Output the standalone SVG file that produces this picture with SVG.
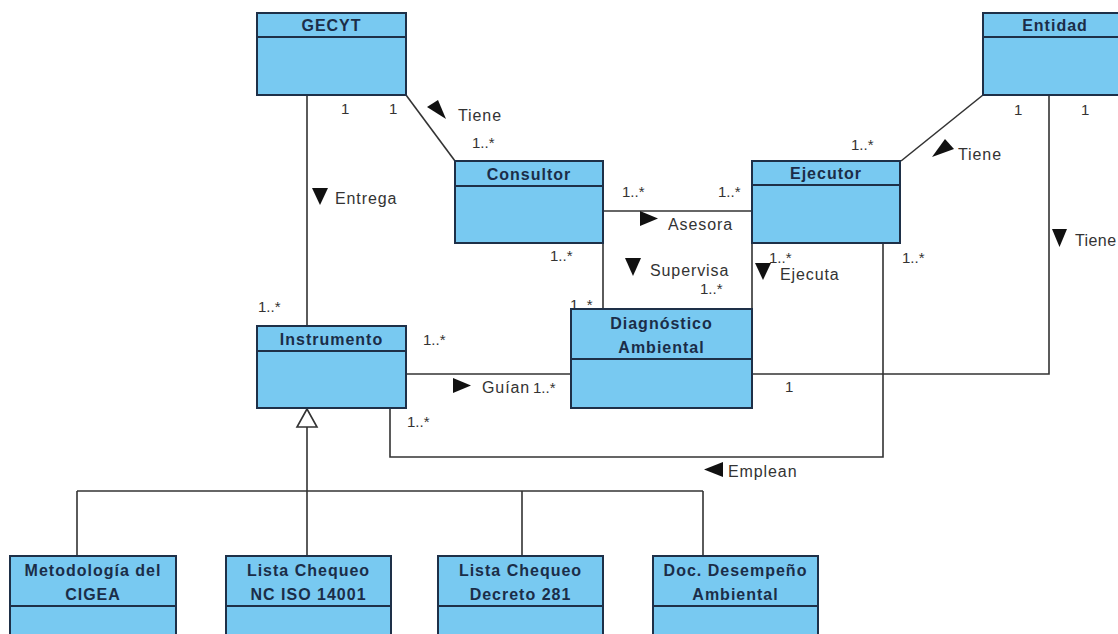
<svg xmlns="http://www.w3.org/2000/svg" width="1118" height="634" viewBox="0 0 1118 634">
  <style>
    .box { fill: #78c9f1; stroke: #1e3048; stroke-width: 2; }
    .sep { stroke: #1e3048; stroke-width: 2; fill: none; }
    .title { font-family: "Liberation Sans", Arial, sans-serif; font-size: 16px; font-weight: bold; fill: #1b2d48; text-anchor: middle; letter-spacing: 1px; }
    .lbl { font-family: "Liberation Sans", Arial, sans-serif; font-size: 16px; fill: #333333; letter-spacing: 0.9px; }
    .mul { font-family: "Liberation Sans", Arial, sans-serif; font-size: 15px; fill: #333333; }
    .ln { stroke: #333333; stroke-width: 1.6; fill: none; }
    .dir { fill: #111111; stroke: none; }
    .gen { fill: #ffffff; stroke: #333333; stroke-width: 1.6; }
  </style>
  <rect x="0" y="0" width="1118" height="634" fill="#ffffff"/>

  <!-- connectors -->
  <g id="connectors">
    <!-- GECYT - Consultor : Tiene -->
    <line class="ln" x1="406" y1="95" x2="455" y2="161"/>
    <!-- GECYT - Instrumento : Entrega -->
    <line class="ln" x1="307" y1="95" x2="307" y2="326"/>
    <!-- Entidad - Ejecutor : Tiene -->
    <line class="ln" x1="983" y1="95" x2="901" y2="161"/>
    <!-- Consultor - Ejecutor : Asesora -->
    <line class="ln" x1="603" y1="211" x2="752" y2="211"/>
    <!-- Consultor - Diagnostico : Supervisa -->
    <line class="ln" x1="603" y1="243" x2="603" y2="309"/>
    <!-- Ejecutor - Diagnostico : Ejecuta -->
    <line class="ln" x1="752" y1="243" x2="752" y2="309"/>
    <!-- Instrumento - Diagnostico : Guian -->
    <line class="ln" x1="406" y1="374" x2="571" y2="374"/>
    <!-- Entidad - Diagnostico : Tiene -->
    <polyline class="ln" points="1049,95 1049,374 752,374"/>
    <!-- Ejecutor - Instrumento : Emplean -->
    <polyline class="ln" points="883,243 883,457 390,457 390,408"/>
    <!-- generalization tree -->
    <line class="ln" x1="307" y1="427" x2="307" y2="491"/>
    <line class="ln" x1="77" y1="491" x2="703" y2="491"/>
    <line class="ln" x1="77" y1="491" x2="77" y2="556"/>
    <line class="ln" x1="307" y1="491" x2="307" y2="556"/>
    <line class="ln" x1="522" y1="491" x2="522" y2="556"/>
    <line class="ln" x1="703" y1="491" x2="703" y2="556"/>
    <polygon class="gen" points="307,409 297,427 317,427"/>

    <!-- direction markers -->
    <polygon class="dir" points="427,107 438,100 446,119"/>
    <polygon class="dir" points="945,139 954,149 932,157"/>
    <polygon class="dir" points="312,188 328,188 320,205"/>
    <polygon class="dir" points="640,211 640,226 658,218.5"/>
    <polygon class="dir" points="625,258 641,258 633,276"/>
    <polygon class="dir" points="755,263 771,263 763,280"/>
    <polygon class="dir" points="1052,229 1067,229 1059.5,247"/>
    <polygon class="dir" points="453,378 453,393 471,385.5"/>
    <polygon class="dir" points="723,462 723,477 704,469.5"/>

    <!-- association names -->
    <text class="lbl" x="458" y="121">Tiene</text>
    <text class="lbl" x="335" y="204">Entrega</text>
    <text class="lbl" x="958" y="160">Tiene</text>
    <text class="lbl" x="668" y="230">Asesora</text>
    <text class="lbl" x="650" y="276">Supervisa</text>
    <text class="lbl" x="780" y="280">Ejecuta</text>
    <text class="lbl" x="1075" y="246" style="letter-spacing:0.4px">Tiene</text>
    <text class="lbl" x="482" y="393">Guían</text>
    <text class="lbl" x="728" y="477">Emplean</text>

    <!-- multiplicities -->
    <text class="mul" x="341" y="114">1</text>
    <text class="mul" x="389" y="114">1</text>
    <text class="mul" x="472" y="148">1..*</text>
    <text class="mul" x="258" y="312">1..*</text>
    <text class="mul" x="1014" y="115">1</text>
    <text class="mul" x="1081" y="115">1</text>
    <text class="mul" x="851" y="150">1..*</text>
    <text class="mul" x="622" y="197">1..*</text>
    <text class="mul" x="718" y="197">1..*</text>
    <text class="mul" x="550" y="261">1..*</text>
    <text class="mul" x="700" y="294">1..*</text>
    <text class="mul" x="570" y="310">1..*</text>
    <text class="mul" x="769" y="263">1..*</text>
    <text class="mul" x="902" y="263">1..*</text>
    <text class="mul" x="423" y="345">1..*</text>
    <text class="mul" x="533" y="393">1..*</text>
    <text class="mul" x="407" y="427">1..*</text>
    <text class="mul" x="785" y="392">1</text>
  </g>

  <!-- classes -->
  <g id="gecyt">
    <rect class="box" x="257" y="13" width="149" height="82"/>
    <line class="sep" x1="257" y1="37" x2="406" y2="37"/>
    <text class="title" x="331.5" y="31">GECYT</text>
  </g>
  <g id="entidad">
    <rect class="box" x="983" y="13" width="148" height="82"/>
    <line class="sep" x1="983" y1="37" x2="1131" y2="37"/>
    <text class="title" x="1055" y="31">Entidad</text>
  </g>
  <g id="consultor">
    <rect class="box" x="455" y="161" width="148" height="82"/>
    <line class="sep" x1="455" y1="186" x2="603" y2="186"/>
    <text class="title" x="529" y="180">Consultor</text>
  </g>
  <g id="ejecutor">
    <rect class="box" x="752" y="161" width="148" height="82"/>
    <line class="sep" x1="752" y1="185" x2="900" y2="185"/>
    <text class="title" x="826" y="179">Ejecutor</text>
  </g>
  <g id="instrumento">
    <rect class="box" x="257" y="326" width="149" height="82"/>
    <line class="sep" x1="257" y1="351" x2="406" y2="351"/>
    <text class="title" x="331.5" y="345">Instrumento</text>
  </g>
  <g id="diagnostico">
    <rect class="box" x="571" y="309" width="181" height="99"/>
    <line class="sep" x1="571" y1="359" x2="752" y2="359"/>
    <text class="title" x="661.5" y="329">Diagnóstico</text>
    <text class="title" x="661.5" y="353">Ambiental</text>
  </g>
  <g id="metodologia">
    <rect class="box" x="10" y="556" width="166" height="100"/>
    <line class="sep" x1="10" y1="606" x2="176" y2="606"/>
    <text class="title" x="93" y="576">Metodología del</text>
    <text class="title" x="93" y="600">CIGEA</text>
  </g>
  <g id="lista-iso">
    <rect class="box" x="226" y="556" width="165" height="100"/>
    <line class="sep" x1="226" y1="606" x2="391" y2="606"/>
    <text class="title" x="308.5" y="576">Lista Chequeo</text>
    <text class="title" x="308.5" y="600">NC ISO 14001</text>
  </g>
  <g id="lista-decreto">
    <rect class="box" x="438" y="556" width="165" height="100"/>
    <line class="sep" x1="438" y1="606" x2="603" y2="606"/>
    <text class="title" x="520.5" y="576">Lista Chequeo</text>
    <text class="title" x="520.5" y="600">Decreto 281</text>
  </g>
  <g id="doc-desempeno">
    <rect class="box" x="653" y="556" width="165" height="100"/>
    <line class="sep" x1="653" y1="606" x2="818" y2="606"/>
    <text class="title" x="735.5" y="576">Doc. Desempeño</text>
    <text class="title" x="735.5" y="600">Ambiental</text>
  </g>
</svg>
